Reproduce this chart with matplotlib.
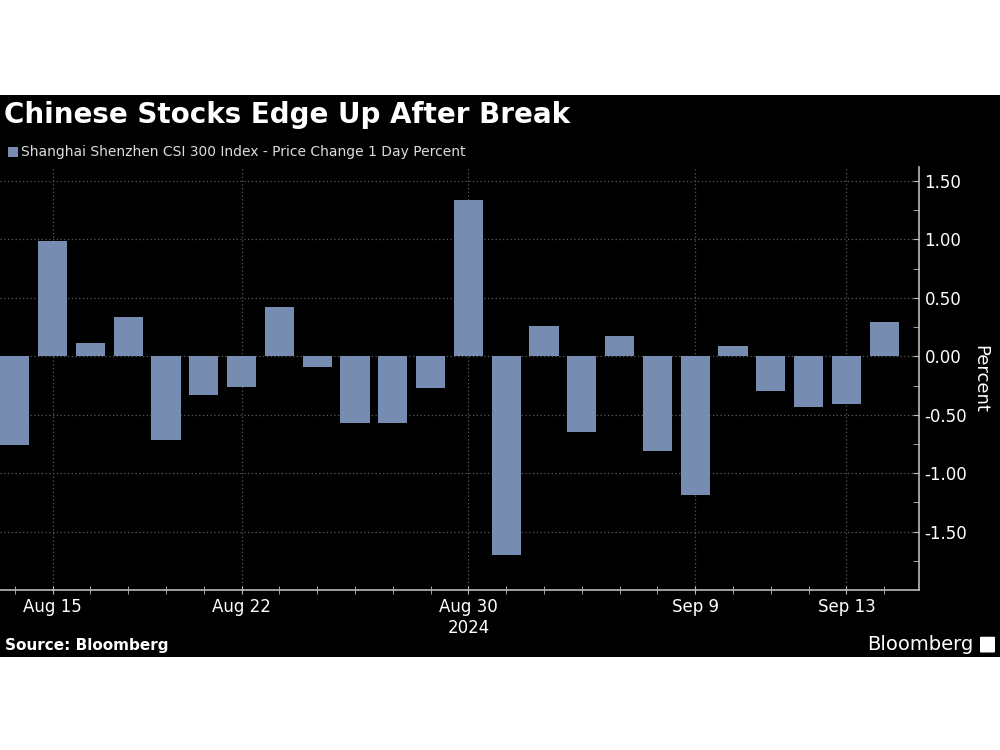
import matplotlib.pyplot as plt
import matplotlib.patches as mpatches
import numpy as np

_BACKGROUND = 'black'
_FOREGROUND = 'white'
_GRID = '#5a5a5a'
_BAR = '#768cb1'

dates = ['Aug 14', 'Aug 15', 'Aug 16', 'Aug 19', 'Aug 20', 'Aug 21', 'Aug 22', 'Aug 23',
         'Aug 26', 'Aug 27', 'Aug 28', 'Aug 29', 'Aug 30', 'Sep 2', 'Sep 3', 'Sep 4',
         'Sep 5', 'Sep 6', 'Sep 9', 'Sep 10', 'Sep 11', 'Sep 12', 'Sep 13', 'Sep 18']
changes = [-0.76, 0.99, 0.11, 0.34, -0.72, -0.33, -0.26, 0.42,
           -0.09, -0.57, -0.57, -0.27, 1.34, -1.70, 0.26, -0.65,
           0.17, -0.81, -1.19, 0.09, -0.30, -0.43, -0.41, 0.29]
major_labels = {'Aug 15': 'Aug 15', 'Aug 22': 'Aug 22', 'Aug 30': 'Aug 30\n2024',
                'Sep 9': 'Sep 9', 'Sep 13': 'Sep 13'}
y_ticks = [-1.5, -1.0, -0.5, 0.0, 0.5, 1.0, 1.5]

fig = plt.figure(figsize=(10, 7.5), dpi=100, facecolor='white')

# Black panel behind the chart
fig.patches.append(mpatches.Rectangle((0, (750 - 657) / 750), 1, (657 - 95) / 750,
                                      transform=fig.transFigure, facecolor=_BACKGROUND,
                                      edgecolor='none', zorder=-5))

ax = fig.add_axes([0.0, 0.2133, 0.919, 0.5640])
ax.set_zorder(2)
ax.set_facecolor(_BACKGROUND)

x = np.arange(len(dates))
ax.bar(x, changes, width=0.77, color=_BAR, zorder=3)

ax.set_xlim(-0.39, len(dates) - 0.08)
ax.set_ylim(-2.0, 1.62)

# X ticks: every day minor, labelled days major
major_pos = [i for i, d in enumerate(dates) if d in major_labels]
ax.set_xticks(major_pos)
ax.set_xticklabels([major_labels[dates[i]] for i in major_pos], color=_FOREGROUND, fontsize=12)
ax.set_xticks(x, minor=True)
ax.tick_params(axis='x', which='both', direction='inout', length=6, color='#bbbbbb', pad=3)

# Y ticks on the right
ax.yaxis.tick_right()
ax.yaxis.set_label_position('right')
ax.set_yticks(y_ticks)
ax.set_yticklabels(['%.2f' % v for v in y_ticks], color=_FOREGROUND, fontsize=12)
ax.set_yticks(np.arange(-1.75, 1.6, 0.25), minor=True)
ax.tick_params(axis='y', which='both', direction='in', length=4, color='#bbbbbb', pad=4)
ax.set_ylabel('Percent', color=_FOREGROUND, fontsize=13, rotation=270, labelpad=16)

# Grid
ax.grid(True, which='major', color=_GRID, linestyle=(0, (1, 2)), linewidth=0.9, zorder=1)

for side in ['top', 'left']:
    ax.spines[side].set_visible(False)
for side in ['right', 'bottom']:
    ax.spines[side].set_color('#bbbbbb')
    ax.spines[side].set_linewidth(1.2)

# Title and legend
fig.text(0.004, 0.847, 'Chinese Stocks Edge Up After Break', color=_FOREGROUND,
         fontsize=20, fontweight='bold', va='center', ha='left')
fig.patches.append(mpatches.Rectangle((0.008, 0.791), 0.010, 0.0133,
                                      transform=fig.transFigure, facecolor=_BAR,
                                      edgecolor='none'))
fig.text(0.021, 0.797, 'Shanghai Shenzhen CSI 300 Index - Price Change 1 Day Percent',
         color='#dddddd', fontsize=10, va='center', ha='left')

# Footer
fig.text(0.005, 0.139, 'Source: Bloomberg', color=_FOREGROUND, fontsize=11,
         fontweight='bold', va='center', ha='left')
fig.text(0.973, 0.141, 'Bloomberg', color=_FOREGROUND, fontsize=14,
         va='center', ha='right')
fig.patches.append(mpatches.FancyBboxPatch((0.981, 0.131), 0.013, 0.019,
                                           boxstyle='round,pad=0.001',
                                           transform=fig.transFigure,
                                           facecolor=_FOREGROUND, edgecolor='none'))

plt.savefig('out.png', dpi=100, facecolor=fig.get_facecolor())
